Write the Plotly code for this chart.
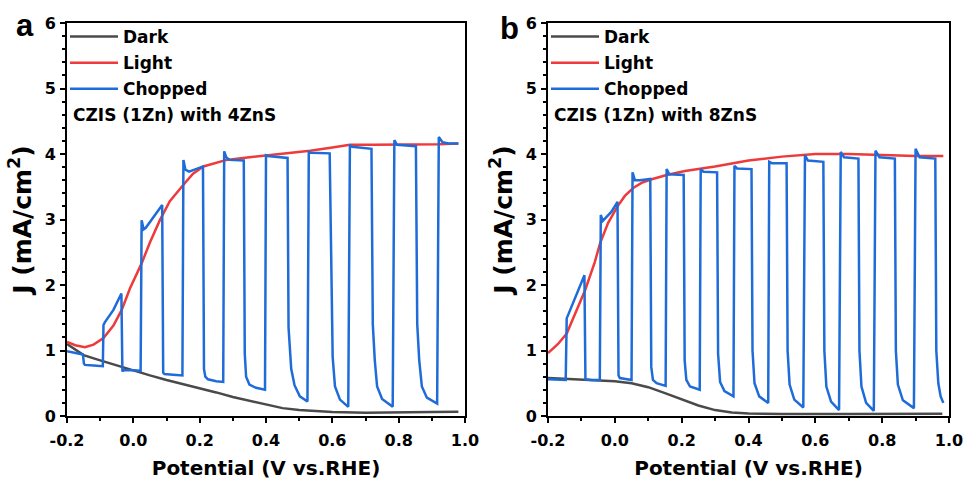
import plotly.graph_objects as go

# ---------------- data ----------------
# Panel a : CZIS (1Zn) with 4ZnS
a_dark_x = [-0.2, -0.15, -0.1, -0.05, 0.0, 0.05, 0.1, 0.15, 0.2, 0.25, 0.3, 0.35, 0.4, 0.45, 0.5, 0.55, 0.6, 0.7, 0.8, 0.9, 0.98]
a_dark_y = [1.10, 0.93, 0.85, 0.77, 0.69, 0.62, 0.55, 0.49, 0.42, 0.36, 0.29, 0.23, 0.17, 0.12, 0.09, 0.07, 0.06, 0.05, 0.05, 0.06, 0.065]

a_light_x = [-0.2, -0.175, -0.146, -0.12, -0.09, -0.06, -0.035, -0.01, 0.025, 0.05, 0.08, 0.11, 0.151, 0.18,
             0.211, 0.25, 0.281, 0.35, 0.402, 0.47, 0.533, 0.6, 0.653, 0.72, 0.784, 0.85, 0.92, 0.98]
a_light_y = [1.13, 1.08, 1.05, 1.09, 1.19, 1.38, 1.62, 1.95, 2.33, 2.65, 2.99, 3.28, 3.53, 3.70,
             3.81, 3.87, 3.91, 3.95, 3.98, 4.01, 4.05, 4.10, 4.14, 4.14, 4.14, 4.14, 4.15, 4.16]

a_chop_x = [-0.200, -0.175, -0.152, -0.149, -0.146, -0.120, -0.092,
            -0.090, -0.086, -0.060, -0.036,
            -0.033, -0.029, 0.000, 0.022,
            0.025, 0.031, 0.037, 0.060, 0.087,
            0.090, 0.094, 0.120, 0.148,
            0.151, 0.157, 0.168, 0.190, 0.210,
            0.213, 0.217, 0.225, 0.250, 0.271,
            0.274, 0.280, 0.290, 0.333,
            0.336, 0.340, 0.350, 0.370, 0.397,
            0.400, 0.405, 0.465,
            0.468, 0.476, 0.486, 0.502, 0.525,
            0.529, 0.535, 0.592,
            0.598, 0.601, 0.608, 0.623, 0.648,
            0.653, 0.660, 0.718,
            0.722, 0.728, 0.735, 0.750, 0.782,
            0.787, 0.795, 0.852,
            0.856, 0.862, 0.870, 0.885, 0.916,
            0.921, 0.932, 0.950, 0.980]
a_chop_y = [0.99, 0.96, 0.94, 0.80, 0.78, 0.77, 0.76,
            1.39, 1.43, 1.62, 1.87,
            0.68, 0.70, 0.70, 0.69,
            2.99, 2.85, 2.87, 3.03, 3.22,
            0.66, 0.64, 0.63, 0.62,
            3.91, 3.76, 3.73, 3.77, 3.81,
            0.72, 0.60, 0.56, 0.53, 0.52,
            4.04, 3.95, 3.91, 3.90,
            0.95, 0.60, 0.48, 0.43, 0.40,
            3.98, 3.97, 3.94,
            1.35, 0.72, 0.47, 0.30, 0.22,
            4.03, 4.02, 4.01,
            1.47, 0.90, 0.45, 0.25, 0.14,
            4.14, 4.11, 4.08,
            1.40, 0.85, 0.45, 0.26, 0.14,
            4.21, 4.14, 4.12,
            1.40, 0.85, 0.45, 0.28, 0.19,
            4.26, 4.18, 4.16, 4.16]

# Panel b : CZIS (1Zn) with 8ZnS
b_dark_x = [-0.2, -0.1, 0.0, 0.05, 0.1, 0.15, 0.2, 0.25, 0.3, 0.35, 0.4, 0.5, 0.7, 0.98]
b_dark_y = [0.58, 0.56, 0.53, 0.50, 0.44, 0.35, 0.25, 0.16, 0.09, 0.055, 0.04, 0.03, 0.03, 0.035]

b_light_x = [-0.2, -0.17, -0.144, -0.12, -0.089, -0.06, -0.044, -0.02, 0.008, 0.03, 0.055, 0.08, 0.108,
             0.155, 0.21, 0.3, 0.4, 0.5, 0.6, 0.7, 0.8, 0.9, 0.983]
b_light_y = [0.96, 1.10, 1.26, 1.55, 1.92, 2.35, 2.64, 2.95, 3.20, 3.36, 3.48, 3.56, 3.61,
             3.68, 3.74, 3.81, 3.90, 3.96, 4.00, 4.00, 3.98, 3.97, 3.97]

b_chop_x = [-0.200, -0.170, -0.147,
            -0.144, -0.120, -0.091,
            -0.088, -0.070, -0.045,
            -0.042, -0.036, -0.010, 0.008,
            0.011, 0.015, 0.050,
            0.053, 0.060, 0.075, 0.106,
            0.109, 0.114, 0.125, 0.152,
            0.155, 0.163, 0.206,
            0.209, 0.214, 0.225, 0.254,
            0.257, 0.265, 0.306,
            0.309, 0.315, 0.328, 0.355,
            0.358, 0.366, 0.409,
            0.412, 0.418, 0.432, 0.459,
            0.462, 0.470, 0.514,
            0.517, 0.523, 0.537, 0.564,
            0.569, 0.578, 0.624,
            0.627, 0.633, 0.647, 0.671,
            0.676, 0.686, 0.729,
            0.732, 0.738, 0.752, 0.775,
            0.780, 0.792, 0.838,
            0.841, 0.847, 0.862, 0.895,
            0.900, 0.912, 0.959,
            0.962, 0.968, 0.975, 0.983]
b_chop_y = [0.56, 0.55, 0.55,
            1.49, 1.78, 2.15,
            0.56, 0.55, 0.55,
            3.07, 2.98, 3.12, 3.27,
            0.62, 0.58, 0.55,
            3.72, 3.60, 3.60, 3.62,
            0.75, 0.55, 0.50, 0.46,
            3.77, 3.69, 3.68,
            0.85, 0.55, 0.45, 0.40,
            3.77, 3.73, 3.72,
            0.95, 0.52, 0.38, 0.30,
            3.82, 3.78, 3.77,
            1.00, 0.50, 0.30, 0.20,
            3.88, 3.86, 3.86,
            1.00, 0.48, 0.25, 0.13,
            3.98, 3.90, 3.88,
            1.00, 0.45, 0.22, 0.09,
            4.03, 3.95, 3.93,
            1.00, 0.45, 0.20, 0.08,
            4.05, 3.95, 3.93,
            1.00, 0.48, 0.24, 0.12,
            4.08, 3.95, 3.93,
            1.00, 0.50, 0.30, 0.20]

x_tickvals = [-0.2, 0.0, 0.2, 0.4, 0.6, 0.8, 1.0]
x_ticktext = ["-0.2", "0.0", "0.2", "0.4", "0.6", "0.8", "1.0"]
y_tickvals = [0, 1, 2, 3, 4, 5, 6]
series_names = ["Dark", "Light", "Chopped"]
sample_labels = ["CZIS (1Zn) with 4ZnS", "CZIS (1Zn) with 8ZnS"]
panel_labels = ["a", "b"]

# ---------------- styling ----------------
W, H = 965, 483
FONT = "DejaVu Sans"
C_DARK = "#4a4a4a"
C_LIGHT = "#ee3a3a"
C_CHOP = "#1f6cd9"
LW = 2.5

fig = go.Figure()

panels = [
    (a_dark_x, a_dark_y, a_light_x, a_light_y, a_chop_x, a_chop_y, "x", "y", "legend"),
    (b_dark_x, b_dark_y, b_light_x, b_light_y, b_chop_x, b_chop_y, "x2", "y2", "legend2"),
]
for i, (dx, dy, lx, ly, cx, cy, xa, ya, lg) in enumerate(panels):
    for name, xs, ys, col in zip(series_names, [dx, lx, cx], [dy, ly, cy], [C_DARK, C_LIGHT, C_CHOP]):
        fig.add_trace(go.Scatter(x=xs, y=ys, mode="lines", name=name, xaxis=xa, yaxis=ya,
                                 legend=lg, legendgroup=f"{lg}_{name}",
                                 line=dict(color=col, width=LW, shape="linear")))

ax_common = dict(showline=True, linewidth=2, linecolor="black", mirror=True, showgrid=False,
                 zeroline=False, ticks="outside", ticklen=5, tickwidth=2, tickcolor="black",
                 automargin=False,
                 tickfont=dict(family=FONT, size=16, color="black", weight="bold"))

xdom = [[67 / W, 465 / W], [548 / W, 949 / W]]
ydom = [(H - 416) / H, (H - 23) / H]

for i in range(2):
    sfx = "" if i == 0 else str(i + 1)
    fig.layout["xaxis" + sfx] = dict(
        ax_common, domain=xdom[i], range=[-0.2, 1.0], anchor="y" + sfx,
        tickvals=x_tickvals, ticktext=x_ticktext, ticklabelstandoff=4,
        minor=dict(dtick=0.1, tick0=-0.2, ticks="outside", ticklen=3, tickwidth=2, tickcolor="black"),
        title=dict(text="Potential (V vs.RHE)", standoff=12,
                   font=dict(family=FONT, size=20, color="black", weight="bold")))
    fig.layout["yaxis" + sfx] = dict(
        ax_common, domain=ydom, range=[0, 6], anchor="x" + sfx,
        tickvals=y_tickvals, ticklabelstandoff=1,
        minor=dict(dtick=0.2, tick0=0, ticks="outside", ticklen=3, tickwidth=2, tickcolor="black"),
        title=dict(text="J (mA/cm<sup>2</sup>)", standoff=6,
                   font=dict(family=FONT, size=25, color="black", weight="bold")))

leg_common = dict(xanchor="left", yanchor="top", bgcolor="rgba(0,0,0,0)", borderwidth=0,
                  traceorder="grouped", tracegroupgap=1, itemwidth=48,
                  font=dict(family=FONT, size=17, color="black", weight="bold"))
fig.update_layout(
    legend=dict(leg_common, x=65 / W, y=1 - 19 / H),
    legend2=dict(leg_common, x=546 / W, y=1 - 19 / H),
)

ann = []
for i, (txt, px) in enumerate(zip(sample_labels, [71, 552])):
    ann.append(dict(text=txt, x=px / W, y=1 - 115 / H, xref="paper", yref="paper",
                    xanchor="left", yanchor="middle", showarrow=False,
                    font=dict(family=FONT, size=17, color="black", weight="bold")))
for txt, px, py in zip(panel_labels, [25, 509], [26, 29]):
    ann.append(dict(text=txt, x=px / W, y=1 - py / H, xref="paper", yref="paper",
                    xanchor="center", yanchor="middle", showarrow=False,
                    font=dict(family="Liberation Sans", size=31, color="black", weight="bold")))

fig.update_layout(
    width=W, height=H, margin=dict(l=0, r=0, t=0, b=0),
    paper_bgcolor="white", plot_bgcolor="white",
    showlegend=True, annotations=ann,
)

fig.write_html("out.html")
